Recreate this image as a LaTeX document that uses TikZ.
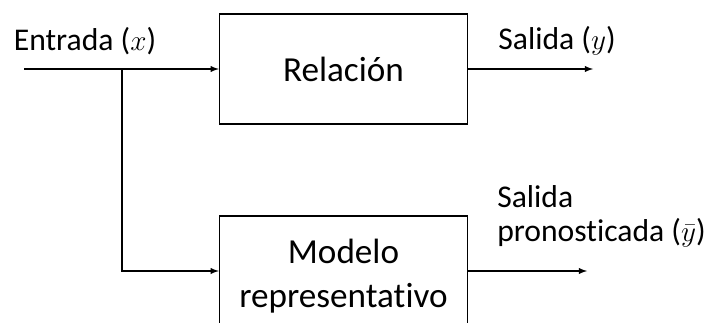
\documentclass[tikz,border=0pt]{standalone}
\usepackage{fontspec}
\setmainfont{Carlito}[Ligatures=NoCommon]
\usetikzlibrary{arrows}
\tikzset{
bloque/.style={draw, line width=1pt, minimum width=6.2cm, minimum height=2.75cm, align=center, font=\fontsize{25}{31}\selectfont},
etiqueta/.style={font=\fontsize{22.5}{24}\selectfont, inner sep=0pt},
flecha/.style={-latex, line width=1pt}
}
\begin{document}
\begin{tikzpicture}[x=0.025cm,y=-0.025cm]
\useasboundingbox (0,0) rectangle (709,322);
\node[bloque] (rel) at (343.5,69) {Relación};
\node[bloque] (mod) at (343.5,271) {\rule{0pt}{24.5pt}Modelo\\representativo};

\coordinate (ent) at (24,69);
\coordinate (rama) at (122,69);
\coordinate (sal1) at (593,69);
\coordinate (sal2) at (587,271);

\node[etiqueta] (lent) at (85,41) {Entrada ($x$)};
\node[etiqueta] (lsal1) at (557,41) {Salida ($y$)};
\node[etiqueta, align=left, anchor=west, font=\fontsize{22.5}{24}\selectfont] (lsal2) at (497,216) {Salida\\pronosticada ($\bar{y}$)};

\draw[flecha] (ent) -- (rel.west);
\draw[flecha] (rama) |- (mod.west);
\draw[flecha] (rel.east) -- (sal1);
\draw[flecha] (mod.east) -- (sal2);
\end{tikzpicture}
\end{document}
